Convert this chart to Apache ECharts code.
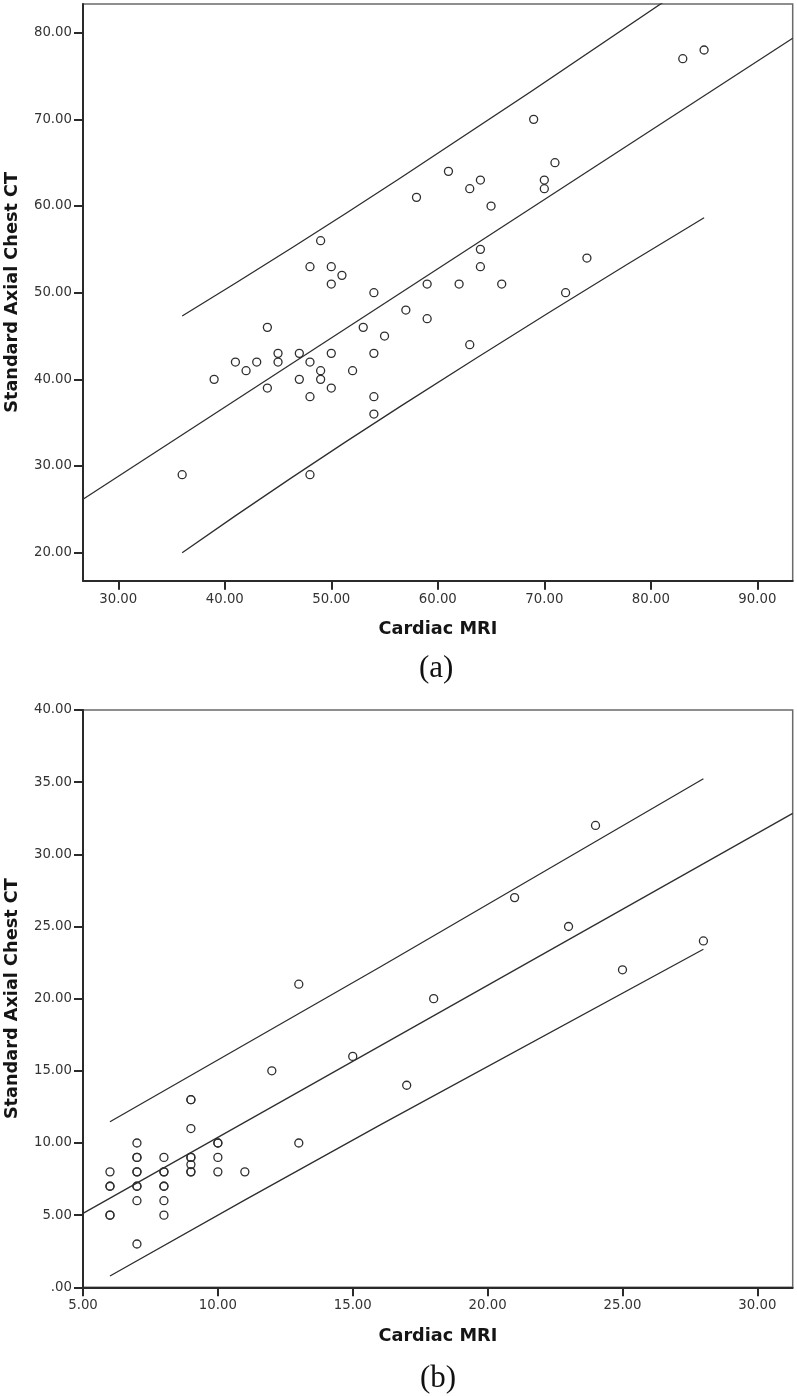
<!DOCTYPE html>
<html>
<head>
<meta charset="utf-8">
<script src="https://cdn.jsdelivr.net/npm/echarts@6/dist/echarts.min.js"></script>
<style>
  html, body { margin: 0; padding: 0; background: #ffffff; }
  #chart { width: 797px; height: 1396px; }
</style>
</head>
<body>
<div id="chart"></div>
<script>
// ---------- Panel (a) data ----------
const mriA = [36, 39, 41, 42, 43, 44, 44, 45, 45, 47, 47, 48, 48, 48, 48, 49, 49, 49, 50, 50, 50, 50, 51, 52, 53, 54, 54, 54, 54, 55, 57, 58, 59, 59, 61, 62, 63, 63, 64, 64, 64, 65, 66, 69, 70, 70, 71, 72, 74, 83, 85];
const ctA  = [29, 40, 42, 41, 42, 46, 39, 43, 42, 43, 40, 53, 42, 38, 29, 56, 41, 40, 53, 51, 43, 39, 52, 41, 46, 50, 43, 38, 36, 45, 48, 61, 51, 47, 64, 51, 62, 44, 63, 55, 53, 60, 51, 70, 63, 62, 65, 50, 54, 77, 78];
// regression line and interval bounds: [x, y]
const fitA   = [[26.69, 26.16], [93.32, 79.35]];
const upperA = [[36, 47.31], [56.45, 63.2], [85, 86.75]];
const lowerA = [[36, 20.0], [56.45, 36.85], [85, 58.65]];
const xTickValsA = [30, 40, 50, 60, 70, 80, 90];
const xTickLabelsA = ['30.00', '40.00', '50.00', '60.00', '70.00', '80.00', '90.00'];
const yTickValsA = [20, 30, 40, 50, 60, 70, 80];
const yTickLabelsA = ['20.00', '30.00', '40.00', '50.00', '60.00', '70.00', '80.00'];
const xRangeA = [26.69, 93.32];
const yRangeA = [16.77, 83.31];

// ---------- Panel (b) data ----------
const mriB = [6, 6, 6, 6, 6, 7, 7, 7, 7, 7, 7, 7, 7, 7, 8, 8, 8, 8, 8, 8, 8, 9, 9, 9, 9, 9, 9, 9, 9, 10, 10, 10, 10, 11, 12, 13, 13, 15, 17, 18, 21, 23, 24, 25, 28];
const ctB  = [8, 7, 7, 5, 5, 10, 9, 9, 8, 8, 7, 7, 6, 3, 9, 8, 8, 7, 7, 6, 5, 13, 13, 11, 9, 9, 8.5, 8, 8, 10, 10, 9, 8, 8, 15, 21, 10, 16, 14, 20, 27, 25, 32, 22, 24];
const fitB   = [[5, 5.12], [31.31, 32.84]];
const upperB = [[6, 11.47], [16.03, 22.21], [28, 35.24]];
const lowerB = [[6, 0.78], [16.02, 11.25], [28, 23.42]];
const xTickValsB = [5, 10, 15, 20, 25, 30];
const xTickLabelsB = ['5.00', '10.00', '15.00', '20.00', '25.00', '30.00'];
const yTickValsB = [0, 5, 10, 15, 20, 25, 30, 35, 40];
const yTickLabelsB = ['.00', '5.00', '10.00', '15.00', '20.00', '25.00', '30.00', '35.00', '40.00'];
const xRangeB = [5, 31.31];
const yRangeB = [0, 40];

const xTitle = 'Cardiac MRI';
const yTitle = 'Standard Axial Chest CT';
const captions = ['(a)', '(b)'];

// ---------- build ----------
const INK = '#2a2a2a';
function labelFor(vals, labels) {
  return function (v) {
    for (let i = 0; i < vals.length; i++) {
      if (Math.abs(vals[i] - v) < 1e-6) return labels[i];
    }
    return '';
  };
}
function makeAxis(gridIndex, range, vals, labels, name, nameGap, isY) {
  return {
    gridIndex: gridIndex,
    type: 'value',
    min: range[0],
    max: range[1],
    name: name,
    nameLocation: 'middle',
    nameGap: nameGap,
    nameTextStyle: { fontFamily: 'DejaVu Sans', fontWeight: 'bold', fontSize: 17.7, color: '#151515' },
    axisLine: { show: true, onZero: false, lineStyle: { color: INK, width: 2 } },
    axisTick: { show: true, length: 9, customValues: vals, lineStyle: { color: INK, width: 2 } },
    axisLabel: {
      customValues: vals,
      formatter: labelFor(vals, labels),
      fontFamily: 'DejaVu Sans',
      fontSize: 13.3,
      color: '#333333',
      margin: isY ? 11 : 12
    },
    splitLine: { show: false }
  };
}
function zip(xs, ys) { return xs.map(function (x, i) { return [x, ys[i]]; }); }
function scatter(idx, data) {
  return {
    type: 'scatter', xAxisIndex: idx, yAxisIndex: idx, data: data,
    symbol: 'circle', symbolSize: 8, silent: true,
    itemStyle: { color: 'rgba(255,255,255,0)', borderColor: '#2e2e2e', borderWidth: 1.3, opacity: 1 },
    emphasis: { disabled: true }, z: 3
  };
}
function line(idx, data) {
  return {
    type: 'line', xAxisIndex: idx, yAxisIndex: idx, data: data,
    showSymbol: false, symbol: 'none', smooth: true, clip: true, silent: true,
    lineStyle: { color: '#2e2e2e', width: 1.3 }, z: 2
  };
}

const chart = echarts.init(document.getElementById('chart'), null, { renderer: 'canvas' });
chart.setOption({
  backgroundColor: '#ffffff',
  animation: false,
  grid: [
    { left: 83, top: 4, width: 709.7, height: 576.7, show: true, borderColor: '#6a6a6a', borderWidth: 1.5, backgroundColor: 'transparent', containLabel: false, outerBoundsMode: 'none' },
    { left: 83, top: 710, width: 709.7, height: 577.3, show: true, borderColor: '#6a6a6a', borderWidth: 1.5, backgroundColor: 'transparent', containLabel: false, outerBoundsMode: 'none' }
  ],
  xAxis: [
    makeAxis(0, xRangeA, xTickValsA, xTickLabelsA, xTitle, 40, false),
    makeAxis(1, xRangeB, xTickValsB, xTickLabelsB, xTitle, 40, false)
  ],
  yAxis: [
    makeAxis(0, yRangeA, yTickValsA, yTickLabelsA, yTitle, 62, true),
    makeAxis(1, yRangeB, yTickValsB, yTickLabelsB, yTitle, 62, true)
  ],
  series: [
    line(0, fitA), line(0, upperA), line(0, lowerA),
    scatter(0, zip(mriA, ctA)),
    line(1, fitB), line(1, upperB), line(1, lowerB),
    scatter(1, zip(mriB, ctB))
  ],
  graphic: [
    { type: 'text', left: 437 - 18, top: 671 - 18, style: { text: captions[0], font: '31px "Liberation Serif", serif', fill: '#111' } },
    { type: 'text', left: 438 - 18, top: 1381 - 18, style: { text: captions[1], font: '31px "Liberation Serif", serif', fill: '#111' } }
  ]
});
</script>
</body>
</html>
